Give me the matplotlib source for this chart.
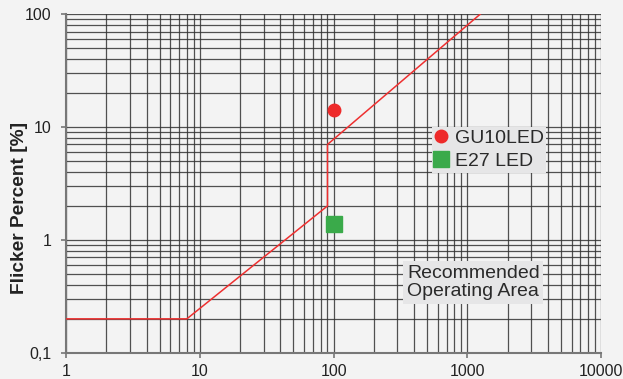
import matplotlib.pyplot as plt
from matplotlib.ticker import FixedLocator, NullFormatter

plt.rcParams['font.family'] = ['Liberation Sans', 'DejaVu Sans']

# recommended operating area boundary (frequency Hz, flicker %)
limit_freq = [1, 8, 90, 90, 1250]
limit_flicker = [0.2, 0.2, 2.0, 7.0, 100]

# measured lamps
lamp_names = ["GU10LED", "E27 LED"]
lamp_freq = [100, 100]
lamp_flicker = [14.2, 1.38]
lamp_colors = ["#ee2a2a", "#3aaa4a"]
lamp_markers = ["o", "s"]
lamp_sizes = [9, 11]

x_ticks = [1, 10, 100, 1000, 10000]
x_labels = ["1", "10", "100", "1000", "10000"]
y_ticks = [0.1, 1, 10, 100]
y_labels = ["0,1", "1", "10", "100"]

bg = "#f3f3f3"
fig = plt.figure(figsize=(6.23, 3.79), dpi=100, facecolor=bg)
ax = fig.add_axes([0.106, 0.069, 0.859, 0.894], facecolor=bg)

ax.set_xscale("log")
ax.set_yscale("log")
ax.set_xlim(1, 10000)
ax.set_ylim(0.1, 100)

minor_x = [m * 10 ** e for e in range(0, 4) for m in range(2, 10)]
minor_y = [m * 10 ** e for e in range(-1, 2) for m in range(2, 10)]
ax.xaxis.set_major_locator(FixedLocator(x_ticks))
ax.yaxis.set_major_locator(FixedLocator(y_ticks))
ax.xaxis.set_minor_locator(FixedLocator(minor_x))
ax.yaxis.set_minor_locator(FixedLocator(minor_y))
ax.xaxis.set_minor_formatter(NullFormatter())
ax.yaxis.set_minor_formatter(NullFormatter())
ax.set_xticklabels(x_labels)
ax.set_yticklabels(y_labels)

ax.grid(True, which="both", color="#333333", lw=0.9, alpha=0.85)
ax.set_axisbelow(True)

for s in ["top", "right"]:
    ax.spines[s].set_visible(False)
for s in ["left", "bottom"]:
    ax.spines[s].set_color("#777777")
    ax.spines[s].set_linewidth(1.5)

ax.tick_params(which="major", length=3.5, width=1.2, color="#777777",
               labelsize=11.5, labelcolor="#222222")
ax.tick_params(axis="y", pad=7)
ax.tick_params(axis="x", pad=4.5)
ax.tick_params(which="minor", length=0)

ax.plot(limit_freq, limit_flicker, color="#ee3030", lw=1.1, zorder=3)

for f, p, c, m, s in zip(lamp_freq, lamp_flicker, lamp_colors, lamp_markers, lamp_sizes):
    ax.plot(f, p, marker=m, color=c, markersize=s, ls="none", zorder=4)

fig.text(20 / 623, 0.451, "Flicker Percent [%]", rotation=90, fontsize=13.8,
         fontweight="bold", color="#222222", ha="center", va="center")

# legend box
handles = [plt.Line2D([], [], marker=m, color=c, ls="none", markersize=s)
           for c, m, s in zip(lamp_colors, lamp_markers, [9, 11])]
leg = ax.legend(handles, lamp_names, loc="upper left",
                bbox_to_anchor=(0.684, 0.667), frameon=True, fancybox=False,
                facecolor="#e6e6e7", edgecolor="none", framealpha=1,
                fontsize=14, handlelength=0.7, handletextpad=0.35,
                borderpad=0.12, labelspacing=0.3, borderaxespad=0)
for t in leg.get_texts():
    t.set_color("#2a2a2a")

ax.text(0.637, 0.208, "Recommended\nOperating Area", transform=ax.transAxes,
        fontsize=14, color="#2a2a2a", va="center", ha="left", linespacing=1.1,
        bbox=dict(facecolor="#e6e6e7", edgecolor="none", pad=2.5), zorder=5)

fig.savefig("out.png", dpi=100, facecolor=bg)
